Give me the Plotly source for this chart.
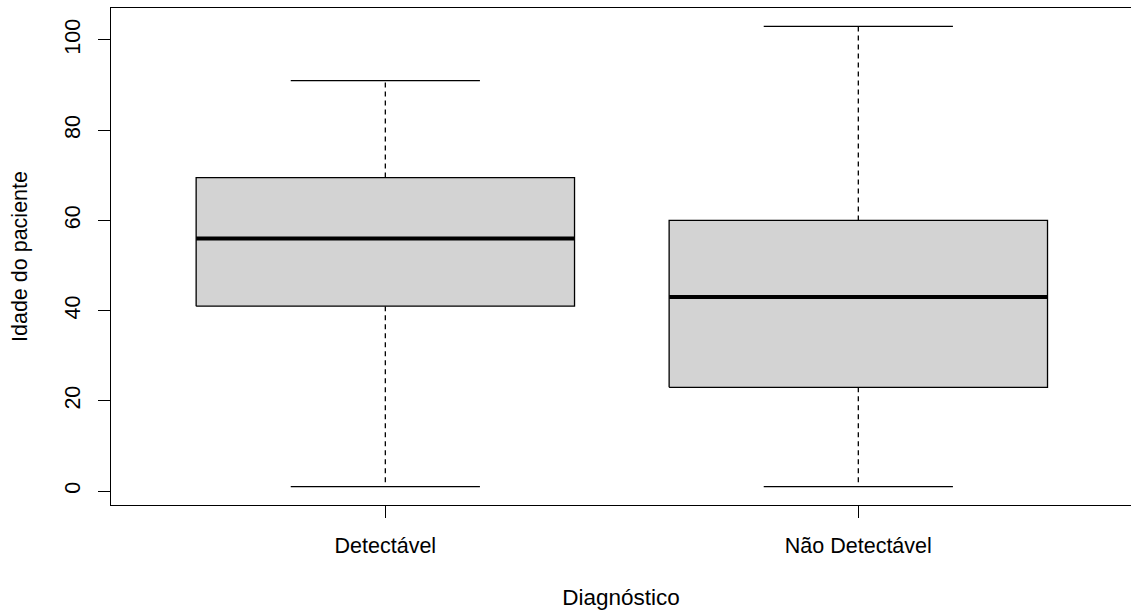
import plotly.graph_objects as go

categories = ["Detectável", "Não Detectável"]
lower_whisker = [1, 1]
q1 = [41, 23]
median = [56, 43]
q3 = [69.5, 60]
upper_whisker = [91, 103]
y_ticks = [0, 20, 40, 60, 80, 100]

HALF_BOX = 0.4
HALF_CAP = 0.2
FONT = "Liberation Sans, Arial, sans-serif"

fig = go.Figure()
for i, cat in enumerate(categories):
    c = i + 1
    fig.add_trace(go.Scatter(x=[c, c], y=[q3[i], upper_whisker[i]], mode="lines",
                             line=dict(color="black", width=1.3, dash="5px,4px"),
                             showlegend=False, hoverinfo="skip"))
    fig.add_trace(go.Scatter(x=[c, c], y=[q1[i], lower_whisker[i]], mode="lines",
                             line=dict(color="black", width=1.3, dash="5px,4px"),
                             showlegend=False, hoverinfo="skip"))
    for w in (upper_whisker[i], lower_whisker[i]):
        fig.add_trace(go.Scatter(x=[c - HALF_CAP, c + HALF_CAP], y=[w, w], mode="lines",
                                 line=dict(color="black", width=1.3),
                                 showlegend=False, hoverinfo="skip"))
    fig.add_trace(go.Scatter(x=[c - HALF_BOX, c + HALF_BOX, c + HALF_BOX, c - HALF_BOX, c - HALF_BOX],
                             y=[q1[i], q1[i], q3[i], q3[i], q1[i]], mode="lines",
                             fill="toself", fillcolor="#D3D3D3",
                             line=dict(color="black", width=1.3),
                             name=cat, showlegend=False, hoverinfo="skip"))
    fig.add_trace(go.Scatter(x=[c - HALF_BOX, c + HALF_BOX], y=[median[i], median[i]], mode="lines",
                             line=dict(color="black", width=4),
                             showlegend=False, hoverinfo="skip"))

fig.update_layout(
    width=1131, height=614,
    margin=dict(l=111, r=0, t=8, b=109, autoexpand=False),
    plot_bgcolor="white", paper_bgcolor="white",
    font=dict(family=FONT, size=21.5, color="black"),
    xaxis=dict(
        range=[0.42, 2.5765], tickvals=[1, 2], ticktext=categories,
        showgrid=False, zeroline=False, showline=True, mirror=True,
        linecolor="black", linewidth=1.3, automargin=False,
        ticks="outside", ticklen=12, tickwidth=1.3, tickcolor="black",
        ticklabelstandoff=9,
        title=dict(text="Diagnóstico", standoff=32, font=dict(size=22.5)),
    ),
    yaxis=dict(
        range=[-3.08, 107.08], tickvals=y_ticks, ticktext=[str(v) for v in y_ticks],
        tickangle=-90, automargin=False,
        showgrid=False, zeroline=False, showline=True, mirror=False,
        linecolor="black", linewidth=1.3,
        ticks="outside", ticklen=12, tickwidth=1.3, tickcolor="black",
        ticklabelstandoff=9,
        title=dict(text="Idade do paciente", standoff=27, font=dict(size=21.5)),
    ),
)

fig.write_html(
    "out.html",
    config={"displayModeBar": False},
    post_script="document.body.style.margin='0';document.body.style.overflow='hidden';",
)
